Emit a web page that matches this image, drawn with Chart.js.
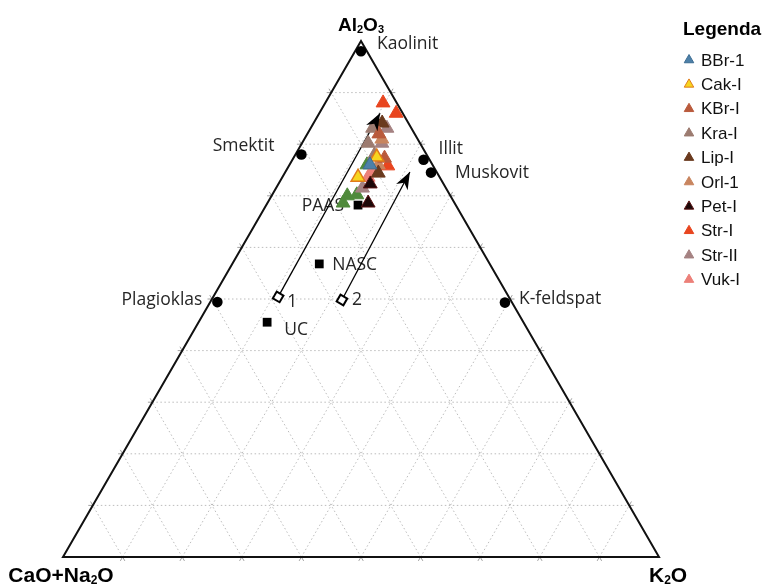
<!DOCTYPE html>
<html><head><meta charset="utf-8">
<script src="https://cdn.jsdelivr.net/npm/chart.js@4/dist/chart.umd.min.js"></script>
<style>html,body{margin:0;padding:0;background:#fff}#wrap{width:765px;height:585px;position:relative}</style>
</head><body><div id="wrap"><canvas id="c" width="765" height="585"></canvas></div>
<script>
// ---- DATA: compositions in %, ordered [Al2O3, CaO+Na2O, K2O] ----
const vertexLabels = ['Al2O3', 'CaO+Na2O', 'K2O'];
const gridSteps = [10, 20, 30, 40, 50, 60, 70, 80, 90];

const mineralNames = ['Kaolinit', 'Smektit', 'Illit', 'Muskovit', 'Plagioklas', 'K-feldspat'];
const mineralAl2O3 = [98, 78, 77, 74.5, 49.4, 49.3];
const mineralCN    = [1, 21, 1, 1, 49.4, 1.2];
const mineralK2O   = [1, 1, 22, 24.5, 1.2, 49.5];

const refNames = ['PAAS', 'NASC', 'UC'];
const refAl2O3 = [68.2, 56.8, 45.5];
const refCN    = [16.4, 28.6, 43.0];
const refK2O   = [15.4, 14.6, 11.5];

const trendNames = ['1', '2'];
const trendStart = [[50.4, 38.7, 10.9], [49.8, 28.3, 21.9]];
const trendEnd   = [[86.0, 3.8, 10.2], [74.6, 4.5, 20.9]];

const seriesNames = ['BBr-1', 'Cak-I', 'KBr-I', 'Kra-I', 'Lip-I', 'Orl-1', 'Pet-I', 'Str-I', 'Str-II', 'Vuk-I'];
const BBr1  = [[76.0, 10.5, 13.5]];
const CakI  = [[77.5, 8.6, 13.9], [73.6, 13.7, 12.7]];
const KBrI  = [[77.3, 7.4, 15.3], [82.0, 6.0, 12.0]];
const KraI  = [[83.1, 6.5, 10.4], [80.2, 8.7, 11.1], [77.9, 8.8, 13.3]];
const LipI  = [[84.1, 4.4, 11.5], [74.4, 9.9, 15.7]];
const Orl1  = [[76.0, 9.1, 14.9], [81.0, 6.0, 13.0]];
const PetI  = [[72.3, 12.3, 15.4], [68.6, 14.5, 16.9]];
const StrI  = [[88.0, 2.3, 9.7], [86.0, 1.1, 12.9], [75.8, 7.6, 16.6]];
const StrII = [[83.1, 4.1, 12.8], [80.2, 6.4, 13.4], [71.5, 14.0, 14.5]];
const VukI  = [[74.6, 10.9, 14.5], [73.6, 12.0, 14.4]];
const unlisted = [[76.0, 11.0, 13.0], [70.0, 17.3, 12.7], [70.2, 15.6, 14.2], [68.6, 18.7, 12.7]];

// ---- styling ----
const seriesData = [BBr1, CakI, KBrI, KraI, LipI, Orl1, PetI, StrI, StrII, VukI];
const seriesFill   = ['#4d80a8', '#f7d51e', '#b95a3c', '#9c7b70', '#6a3a1e', '#c8855f', '#1c0808', '#e8451f', '#a58282', '#ec8079'];
const seriesBorder = ['#3d6d93', '#e07b1a', '#b95a3c', '#9c7b70', '#6a3a1e', '#c8855f', '#5a1212', '#e8451f', '#a58282', '#ec8079'];

const H = Math.sqrt(3) / 2;
function tern(c) { const s = c[0] + c[1] + c[2]; const a = c[0] / s, k = c[2] / s; return { x: k + a / 2, y: a * H }; }

const datasets = [];
seriesData.forEach((arr, i) => {
  datasets.push({ label: seriesNames[i], data: arr.map(tern), pointStyle: 'triangle', pointRadius: 8, pointHoverRadius: 8,
    backgroundColor: seriesFill[i], borderColor: seriesBorder[i], borderWidth: i === 1 ? 1.5 : 1, showLine: false, order: 1, clip: false });
});
datasets.push({ label: '_green', data: unlisted.map(tern), pointStyle: 'triangle', pointRadius: 8, backgroundColor: '#4f8a3b',
  borderColor: '#4f8a3b', borderWidth: 1, showLine: false, order: 1, clip: false });
trendStart.forEach((s, i) => {
  datasets.push({ label: '_trend' + i, data: [tern(s), tern(trendEnd[i])], showLine: true, borderColor: '#000', borderWidth: 1.3,
    pointRadius: 0, order: 5, clip: false });
});
datasets.push({ label: '_start', data: trendStart.map(tern), pointStyle: 'rect', rotation: 30, pointRadius: 5.5,
  backgroundColor: '#fff', borderColor: '#000', borderWidth: 2, showLine: false, order: 3, clip: false });
datasets.push({ label: '_ref', data: refAl2O3.map((a, i) => tern([a, refCN[i], refK2O[i]])), pointStyle: 'rect', pointRadius: 6.2,
  backgroundColor: '#000', borderColor: '#000', borderWidth: 0, showLine: false, order: 4, clip: false });
datasets.push({ label: '_min', data: mineralAl2O3.map((a, i) => tern([a, mineralCN[i], mineralK2O[i]])), pointStyle: 'circle', pointRadius: 5.3,
  backgroundColor: '#000', borderColor: '#000', borderWidth: 0, showLine: false, order: 4, clip: false });

const LABEL_FONT = '17.5px "Open Sans"';

function drawChem(ctx, text, x, y, size, align) {
  const parts = text.match(/\d+|\D+/g);
  const big = 'bold ' + size + 'px "Liberation Sans"', small = 'bold ' + Math.round(size * 0.58) + 'px "Liberation Sans"';
  let w = 0;
  parts.forEach(p => { ctx.font = /\d/.test(p) ? small : big; w += ctx.measureText(p).width; });
  let cx = align === 'center' ? x - w / 2 : x;
  ctx.textAlign = 'left'; ctx.textBaseline = 'alphabetic';
  parts.forEach(p => {
    const sub = /\d/.test(p);
    ctx.font = sub ? small : big;
    ctx.fillText(p, cx, y + (sub ? 2 : 0));
    cx += ctx.measureText(p).width;
  });
}

const ternPlugin = {
  id: 'tern',
  beforeDatasetsDraw(chart) {
    const { ctx, scales: { x, y } } = chart;
    const P = c => { const t = tern(c); return [x.getPixelForValue(t.x), y.getPixelForValue(t.y)]; };
    ctx.save();
    const lines = [];
    gridSteps.forEach(v => {
      lines.push([P([v, 100 - v, 0]), P([v, 0, 100 - v])]);
      lines.push([P([0, 100 - v, v]), P([100 - v, 0, v])]);
      lines.push([P([0, v, 100 - v]), P([100 - v, v, 0])]);
    });
    ctx.strokeStyle = '#bcbcbc'; ctx.lineWidth = 1; ctx.setLineDash([1.5, 2.5]);
    lines.forEach(([a, b]) => { ctx.beginPath(); ctx.moveTo(a[0], a[1]); ctx.lineTo(b[0], b[1]); ctx.stroke(); });
    ctx.setLineDash([]); ctx.strokeStyle = '#a0a0a0';
    lines.forEach(([a, b]) => {
      const dx = b[0] - a[0], dy = b[1] - a[1], L = Math.hypot(dx, dy), ux = dx / L, uy = dy / L, t = 4.5;
      ctx.beginPath(); ctx.moveTo(a[0], a[1]); ctx.lineTo(a[0] - ux * t, a[1] - uy * t);
      ctx.moveTo(b[0], b[1]); ctx.lineTo(b[0] + ux * t, b[1] + uy * t); ctx.stroke();
    });
    const A = P([100, 0, 0]), C = P([0, 100, 0]), K = P([0, 0, 100]);
    ctx.strokeStyle = '#111'; ctx.lineWidth = 2; ctx.lineJoin = 'miter';
    ctx.beginPath(); ctx.moveTo(A[0], A[1]); ctx.lineTo(C[0], C[1]); ctx.lineTo(K[0], K[1]); ctx.closePath(); ctx.stroke();

    ctx.fillStyle = '#262626'; ctx.font = LABEL_FONT; ctx.textBaseline = 'middle';
    const minOff = [[16, -7, 'left'], [-27, -9, 'right'], [15, -11, 'left'], [24, 0, 'left'], [-15, -2, 'right'], [14, -4, 'left']];
    mineralNames.forEach((n, i) => {
      const p = P([mineralAl2O3[i], mineralCN[i], mineralK2O[i]]);
      ctx.textAlign = minOff[i][2]; ctx.fillText(n, p[0] + minOff[i][0], p[1] + minOff[i][1]);
    });
    const refOff = [[-14, 1, 'right'], [13, 1, 'left'], [17, 8, 'left']];
    refNames.forEach((n, i) => {
      const p = P([refAl2O3[i], refCN[i], refK2O[i]]);
      ctx.textAlign = refOff[i][2]; ctx.fillText(n, p[0] + refOff[i][0], p[1] + refOff[i][1]);
    });
    const trOff = [[9, 5], [10, 0]];
    trendNames.forEach((n, i) => {
      const p = P(trendStart[i]);
      ctx.textAlign = 'left'; ctx.fillText(n, p[0] + trOff[i][0], p[1] + trOff[i][1]);
    });
    ctx.fillStyle = '#000';
    drawChem(ctx, vertexLabels[0], A[0], A[1] - 10, 19, 'center');
    drawChem(ctx, vertexLabels[1], C[0] - 2, C[1] + 25, 21, 'center');
    drawChem(ctx, vertexLabels[2], K[0] - 10, K[1] + 25, 21, 'left');
    ctx.restore();
  },
  afterDatasetsDraw(chart) {
    const { ctx, scales: { x, y } } = chart;
    const P = c => { const t = tern(c); return [x.getPixelForValue(t.x), y.getPixelForValue(t.y)]; };
    ctx.save();
    trendEnd.forEach((e, i) => {
      const a = P(trendStart[i]), b = P(e);
      const ang = Math.atan2(b[1] - a[1], b[0] - a[0]);
      ctx.translate(b[0], b[1]); ctx.rotate(ang);
      ctx.fillStyle = '#000'; ctx.beginPath();
      ctx.moveTo(0, 0); ctx.lineTo(-17, -6.5); ctx.lineTo(-12, 0); ctx.lineTo(-17, 6.5); ctx.closePath(); ctx.fill();
      ctx.setTransform(1, 0, 0, 1, 0, 0);
    });
    ctx.fillStyle = '#000'; ctx.textAlign = 'left'; ctx.textBaseline = 'middle';
    ctx.font = 'bold 19px "Liberation Sans"';
    ctx.fillText('Legenda', 683, 30);
    seriesNames.forEach((n, i) => {
      const yy = 60 + i * 24.4, xx = 689, r = 5.5;
      ctx.beginPath();
      ctx.moveTo(xx, yy - r); ctx.lineTo(xx + r * 0.866, yy + r * 0.5); ctx.lineTo(xx - r * 0.866, yy + r * 0.5); ctx.closePath();
      ctx.fillStyle = seriesFill[i]; ctx.fill();
      ctx.strokeStyle = seriesBorder[i]; ctx.lineWidth = 1; ctx.stroke();
      ctx.fillStyle = '#111'; ctx.font = '17px "Liberation Sans"';
      ctx.fillText(n, 701, yy + 1);
    });
    ctx.restore();
  }
};

new Chart(document.getElementById('c'), {
  type: 'scatter',
  data: { datasets },
  options: {
    responsive: false, animation: false, devicePixelRatio: 1,
    layout: { padding: { left: 63, right: 106, top: 41, bottom: 28 } },
    scales: {
      x: { type: 'linear', min: 0, max: 1, display: false },
      y: { type: 'linear', min: 0, max: H, display: false }
    },
    plugins: { legend: { display: false }, tooltip: { enabled: false } },
    events: []
  },
  plugins: [ternPlugin]
});
</script>
</body></html>
